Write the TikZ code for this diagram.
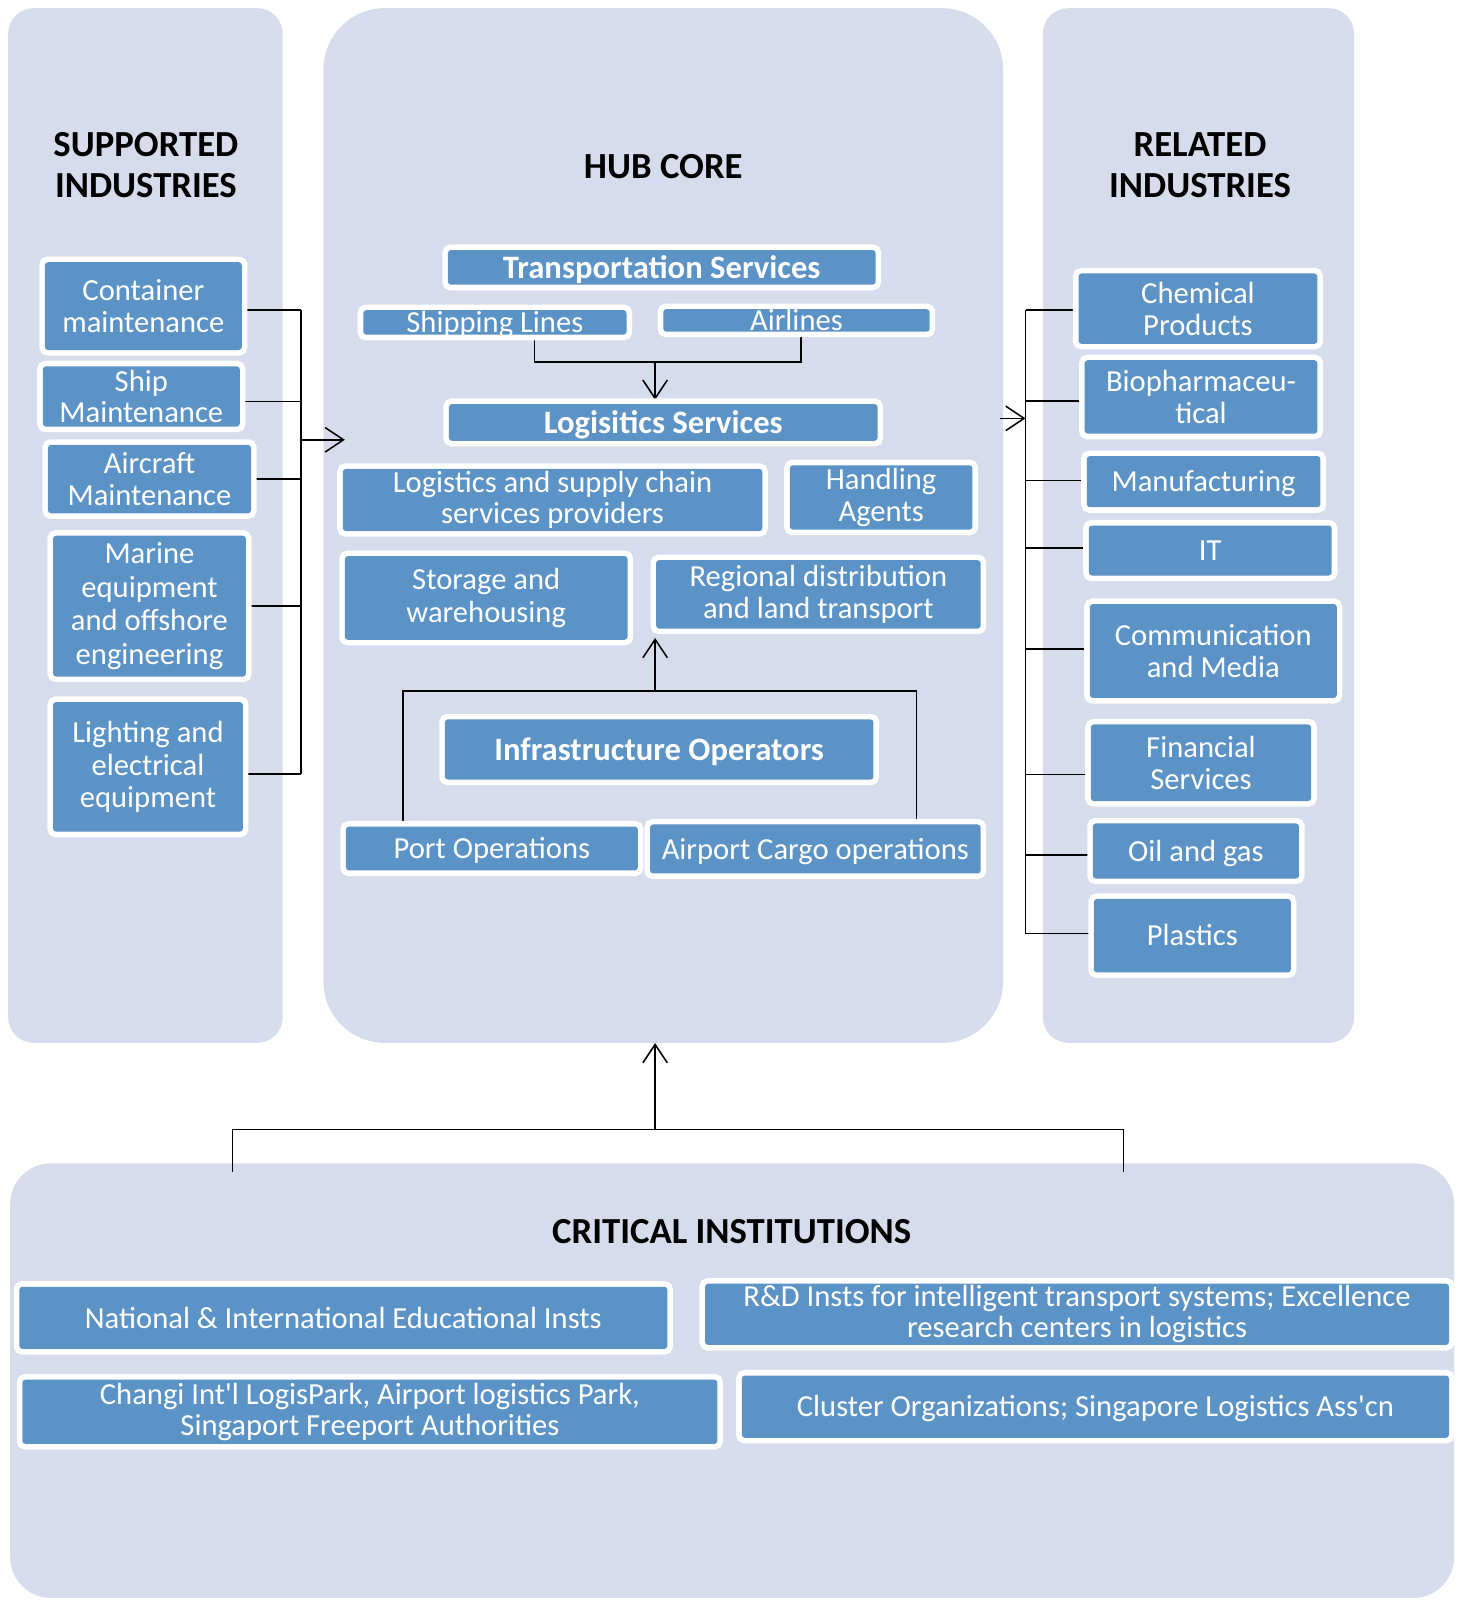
\documentclass[tikz,border=0pt]{standalone}
\usepackage{fontspec}
\setmainfont{Carlito}
\usetikzlibrary{arrows.meta}
\definecolor{panelc}{RGB}{214,220,235}
\definecolor{boxc}{RGB}{92,147,199}
\pgfdeclarelayer{back}
\pgfdeclarelayer{lines}
\pgfsetlayers{back,lines,main}
\tikzset{
  bx/.style={rectangle, rounded corners=3pt, fill=boxc, preaction={draw=white, line width=11pt},
    text=white, align=center, inner sep=0pt, font=\fontsize{30}{31}\selectfont},
  one/.style={bx, text height=21pt, text depth=1pt},
  bxb/.style={bx, font=\bfseries\fontsize{32}{33}\selectfont, text height=22pt, text depth=0pt},
  panel/.style={rectangle, fill=panelc, inner sep=0pt},
  ttl/.style={align=center, inner sep=0pt, font=\bfseries\fontsize{36}{40}\selectfont},
  conn/.style={draw=black, line width=1.5pt},
  arr/.style={conn, -{Straight Barb[length=18pt,width=24pt,line width=1.5pt]}}
}
\begin{document}
\begin{tikzpicture}[x=1pt,y=-1pt]
\useasboundingbox (0,0) rectangle (1436,1568);
% panels
\begin{pgfonlayer}{back}
\fill[white] (0,0) rectangle (1436,1568);
\node[panel, rounded corners=25pt, minimum width=269pt, minimum height=1014pt] (sup) at (142.5,515) {};
\node[panel, rounded corners=60pt, minimum width=666pt, minimum height=1014pt] (hub) at (650,515) {};
\node[panel, rounded corners=25pt, minimum width=305pt, minimum height=1014pt] (rel) at (1174.5,515) {};
\node[panel, rounded corners=40pt, minimum width=1415pt, minimum height=426pt] (ci) at (717.5,1353) {};
\end{pgfonlayer}
% titles
\node[ttl] (tsup) at (143,162) {SUPPORTED\\INDUSTRIES};
\node[ttl] (thub) at (650,163) {HUB CORE};
\node[ttl] (trel) at (1176,162) {RELATED\\INDUSTRIES};
\node[ttl] (tci) at (717,1207) {CRITICAL INSTITUTIONS};
% left column
\node[bx, minimum width=193pt, minimum height=86pt] (c1) at (140.5,300) {Container\\maintenance};
\node[bx, minimum width=193pt, minimum height=59pt] (c2) at (138.5,388.5) {Ship\\Maintenance};
\node[bx, minimum width=199pt, minimum height=67pt] (c3) at (146.5,469.5) {Aircraft\\Maintenance};
\node[bx, minimum width=189pt, minimum height=138pt, font=\fontsize{30}{33}\selectfont] (c4) at (146.5,594) {Marine\\equipment\\and offshore\\engineering};
\node[bx, minimum width=186pt, minimum height=127pt, font=\fontsize{30}{32}\selectfont] (c5) at (145,751.5) {Lighting and\\electrical\\equipment};
% hub core
\node[bxb, minimum width=419pt, minimum height=34pt] (ts) at (648.5,262) {Transportation Services};
\node[one, minimum width=258pt, minimum height=24pt] (sl) at (485,316) {Shipping Lines};
\node[one, minimum width=261pt, minimum height=22pt] (al) at (780.5,314) {Airlines};
\node[bxb, minimum width=420pt, minimum height=36pt] (ls) at (650,414) {Logisitics Services};
\node[bx, minimum width=411pt, minimum height=61pt] (lp) at (541.5,490) {Logistics and supply chain\\services providers};
\node[bx, minimum width=179pt, minimum height=63pt] (ha) at (863.5,487.5) {Handling\\Agents};
\node[bx, minimum width=277pt, minimum height=82pt, font=\fontsize{30}{32}\selectfont] (sw) at (476.5,586) {Storage and\\warehousing};
\node[bx, minimum width=318pt, minimum height=67pt] (rd) at (802,582.5) {Regional distribution\\and land transport};
\node[bxb, minimum width=420pt, minimum height=59pt] (io) at (646,734.5) {Infrastructure Operators};
\node[one, minimum width=286pt, minimum height=43pt] (po) at (482,831.5) {Port Operations};
\node[one, minimum width=324pt, minimum height=48pt] (ac) at (799,832) {Airport Cargo operations};
% right column
\node[bx, minimum width=234pt, minimum height=69pt] (r1) at (1174,302.5) {Chemical\\Products};
\node[bx, minimum width=228pt, minimum height=72pt] (r2) at (1177,389) {Biopharmaceu-\\tical};
\node[one, minimum width=229pt, minimum height=50pt] (r3) at (1179.5,472) {Manufacturing};
\node[one, minimum width=238pt, minimum height=49pt] (r4) at (1186,539.5) {IT};
\node[bx, minimum width=242pt, minimum height=92pt] (r5) at (1189,638) {Communication\\and Media};
\node[bx, minimum width=216pt, minimum height=75pt] (r6) at (1177,747.5) {Financial\\Services};
\node[one, minimum width=202pt, minimum height=54pt] (r7) at (1172,834) {Oil and gas};
\node[one, minimum width=193pt, minimum height=72pt] (r8) at (1168.5,917) {Plastics};
% critical institutions
\node[one, minimum width=635pt, minimum height=61pt] (b1) at (336.5,1291.5) {National \& International Educational Insts};
\node[bx, minimum width=729pt, minimum height=60pt, font=\fontsize{30}{30}\selectfont] (b2) at (1055.5,1288) {R\&D Insts for intelligent transport systems; Excellence\\research centers in logistics};
\node[bx, minimum width=681pt, minimum height=63pt, font=\fontsize{30}{30}\selectfont] (b3) at (362.5,1383.5) {Changi Int\textquotesingle l LogisPark, Airport logistics Park,\\Singaport Freeport Authorities};
\node[one, minimum width=693pt, minimum height=61pt] (b4) at (1073.5,1378.5) {Cluster Organizations; Singapore Logistics Ass\textquotesingle cn};
% coordinates
\coordinate (lbus) at (295,0);
\coordinate (la) at (338,431);
\coordinate (rbus) at (1005,0);
\coordinate (ra) at (980,410);
\coordinate (j1) at (642,355);
\coordinate (j2) at (642,677);
\coordinate (j3) at (642,1107);
% connectors
\begin{pgfonlayer}{lines}
\foreach \n/\d in {c1/-4,c2/-5,c3/0,c4/0,c5/-7} \draw[conn] ([yshift=\d pt]\n.east) -- ([yshift=\d pt]\n.east -| lbus);
\draw[conn] ([yshift=-4pt]lbus |- c1.east) -- ([yshift=-7pt]lbus |- c5.east);
\draw[arr] (la -| lbus) -- (la);
\foreach \n/\d in {r1/-1.5,r2/-4,r3/1,r4/2.5,r5/2,r6/-11.5,r7/-4,r8/2} \draw[conn] ([yshift=\d pt]\n.west) -- ([yshift=\d pt]\n.west -| rbus);
\draw[conn] ([yshift=-1.5pt]rbus |- r1.west) -- ([yshift=2pt]rbus |- r8.west);
\draw[arr] (ra) -- (ra -| rbus);
\draw[conn] ([xshift=39pt]sl.south) |- (j1) -| ([xshift=4.5pt]al.south);
\draw[arr] (j1) -- ([yshift=4pt]ls.north -| j1);
\draw[conn] ([xshift=-87pt]po.north) |- (j2) -| ([xshift=99pt]ac.north);
\draw[arr] (j2) -- ([yshift=-9pt]rd.south -| j2);
\draw[conn] ([xshift=-489.5pt,yshift=-9pt]ci.north) |- (j3) -| ([xshift=383.5pt,yshift=-9pt]ci.north);
\draw[arr] (j3) -- (hub.south -| j3);
\end{pgfonlayer}
\end{tikzpicture}
\end{document}
